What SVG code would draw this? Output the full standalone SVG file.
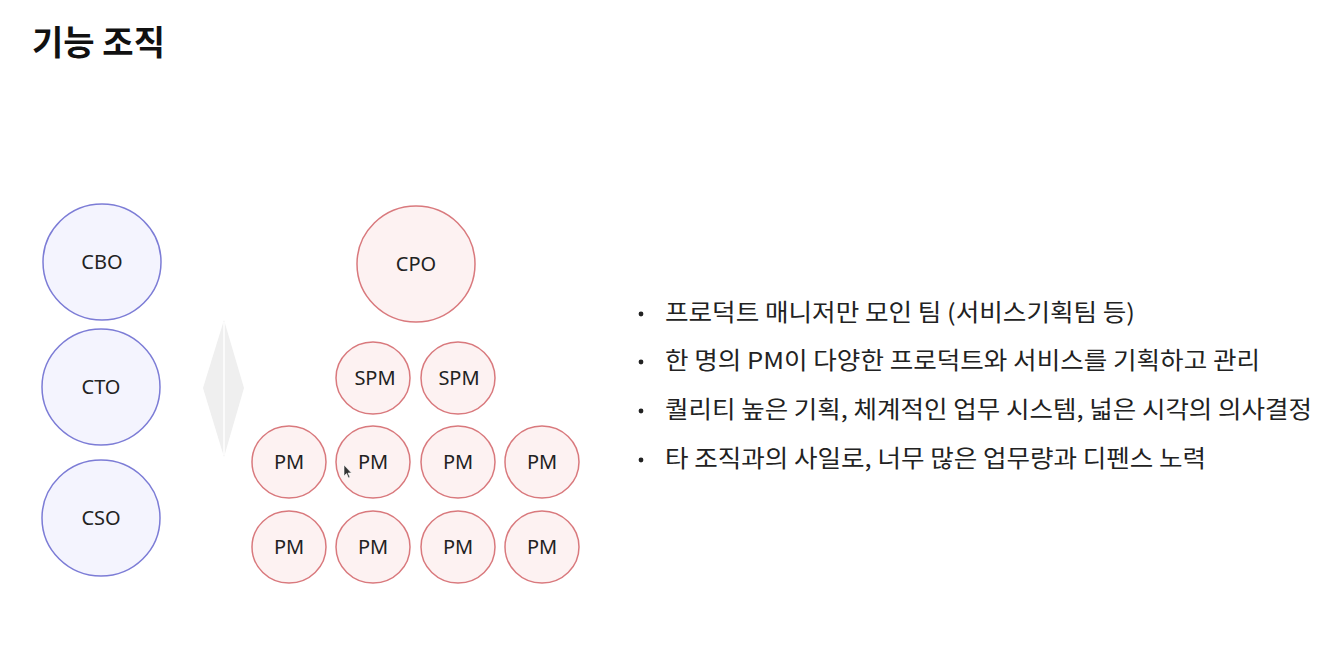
<svg xmlns="http://www.w3.org/2000/svg" width="1343" height="655" viewBox="0 0 1343 655">
<style>
.bg{fill:#ffffff}
.blue{fill:#f4f4fe;stroke:#7c7cd6;stroke-width:1.5}
.red{fill:#fdf2f2;stroke:#d9797d;stroke-width:1.5}
.lbl{font-family:"Noto Sans","Open Sans","Noto Sans CJK KR",sans-serif;font-size:20px;fill:#222;text-anchor:middle}
.title{font-family:"Noto Sans CJK KR","Noto Sans",sans-serif;font-size:34px;font-weight:bold;fill:#111}
.body{font-family:"Noto Sans CJK KR","Noto Sans",sans-serif;font-size:23.5px;fill:#222}
.dot{fill:#222}
</style>
<rect class="bg" x="0" y="0" width="1343" height="655"/>
<text class="title" x="32" y="55" textLength="133" lengthAdjust="spacingAndGlyphs">기능 조직</text>

<g id="cbo"><ellipse class="blue" cx="102" cy="262" rx="59" ry="58"/><text class="lbl" x="102" y="269">CBO</text></g>
<g id="cto"><ellipse class="blue" cx="101" cy="387" rx="59" ry="58"/><text class="lbl" x="101" y="394">CTO</text></g>
<g id="cso"><ellipse class="blue" cx="101" cy="518" rx="59" ry="58"/><text class="lbl" x="101" y="525">CSO</text></g>

<g id="divider">
<polygon points="224,320 244,388 224,457 203,388" fill="#efefef"/>
<line x1="224" y1="322" x2="224" y2="455" stroke="#ffffff" stroke-width="1.5"/>
</g>

<g id="cpo"><ellipse class="red" cx="416" cy="264" rx="59" ry="58"/><text class="lbl" x="416" y="271">CPO</text></g>
<g id="spm1"><ellipse class="red" cx="373" cy="378" rx="37" ry="36"/><text class="lbl" x="375" y="385">SPM</text></g>
<g id="spm2"><ellipse class="red" cx="458" cy="378" rx="37" ry="36"/><text class="lbl" x="459" y="385">SPM</text></g>

<g id="pm1"><ellipse class="red" cx="289" cy="462" rx="37" ry="36"/><text class="lbl" x="289" y="469">PM</text></g>
<g id="pm2"><ellipse class="red" cx="373" cy="462" rx="37" ry="36"/><text class="lbl" x="373" y="469">PM</text></g>
<g id="pm3"><ellipse class="red" cx="458" cy="462" rx="37" ry="36"/><text class="lbl" x="458" y="469">PM</text></g>
<g id="pm4"><ellipse class="red" cx="542" cy="462" rx="37" ry="36"/><text class="lbl" x="542" y="469">PM</text></g>
<g id="pm5"><ellipse class="red" cx="289" cy="547" rx="37" ry="36"/><text class="lbl" x="289" y="554">PM</text></g>
<g id="pm6"><ellipse class="red" cx="373" cy="547" rx="37" ry="36"/><text class="lbl" x="373" y="554">PM</text></g>
<g id="pm7"><ellipse class="red" cx="458" cy="547" rx="37" ry="36"/><text class="lbl" x="458" y="554">PM</text></g>
<g id="pm8"><ellipse class="red" cx="542" cy="547" rx="37" ry="36"/><text class="lbl" x="542" y="554">PM</text></g>

<g id="connectors"></g>

<path d="M344,465 L344,476 L346.5,473.5 L348.5,478 L350,477.3 L348,473 L351.5,473 Z" fill="#333" stroke="#fff" stroke-width="0.6"/>

<g id="bullets">
<circle class="dot" cx="641" cy="314" r="2.4"/>
<text class="body" x="665" y="321" textLength="470" lengthAdjust="spacingAndGlyphs">프로덕트 매니저만 모인 팀 (서비스기획팀 등)</text>
<circle class="dot" cx="641" cy="362" r="2.4"/>
<text class="body" x="665" y="369" textLength="595" lengthAdjust="spacingAndGlyphs">한 명의 PM이 다양한 프로덕트와 서비스를 기획하고 관리</text>
<circle class="dot" cx="641" cy="411" r="2.4"/>
<text class="body" x="665" y="418" textLength="647" lengthAdjust="spacingAndGlyphs">퀄리티 높은 기획, 체계적인 업무 시스템, 넓은 시각의 의사결정</text>
<circle class="dot" cx="641" cy="460" r="2.4"/>
<text class="body" x="665" y="467" textLength="541" lengthAdjust="spacingAndGlyphs">타 조직과의 사일로, 너무 많은 업무량과 디펜스 노력</text>
</g>
</svg>
